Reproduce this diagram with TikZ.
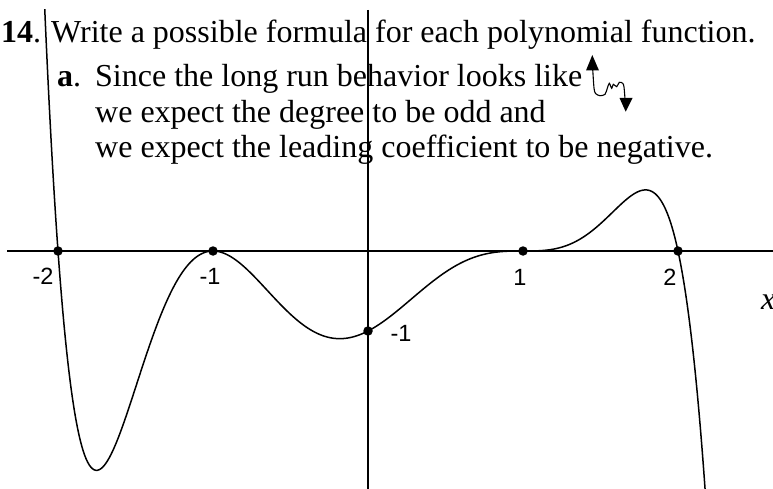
\documentclass[tikz,border=0pt]{standalone}
\usepackage{fontspec}
\setmainfont{Liberation Serif}
\newfontfamily\labelfont{Liberation Sans}
\begin{document}
\begin{tikzpicture}[x=1pt,y=-1pt,
  txt/.style={anchor=base west,inner sep=0pt,font=\fontsize{32}{36}\selectfont},
  lab/.style={inner sep=0pt,font=\labelfont\fontsize{23.5}{26}\selectfont},
  dotpt/.style={circle,fill=black,inner sep=0pt,minimum size=9.5pt},
  ax/.style={line width=1.6pt},
  crv/.style={line width=1.5pt},
  icon/.style={line width=1.1pt},
  ahead/.style={fill=black}
]
\useasboundingbox (0,0) rectangle (773,489);
% axes
\coordinate (xl) at (7,251);
\coordinate (xr) at (773,251);
\coordinate (yt) at (368,10);
\coordinate (yb) at (368,489);
\draw[ax] (xl) -- (xr);
\draw[ax] (yt) -- (yb);
% curve
\begin{scope}
\clip (0,10) rectangle (773,495);
\draw[crv] plot[domain=-2.1:2.2, samples=400, smooth]
  ({368+155*\x},{251+20*(\x+2)*(\x+1)*(\x+1)*(\x-1)*(\x-1)*(\x-1)*(\x-2)});
\end{scope}
% points
\node[dotpt] (zm2) at (58,251) {};
\node[dotpt] (zm1) at (213,251) {};
\node[dotpt] (z1) at (523,251) {};
\node[dotpt] (z2) at (678,251) {};
\node[dotpt] (yint) at (368,331) {};
% labels
\node[lab] (lm2) at (43,276) {-2};
\node[lab] (lm1) at (210,276) {-1};
\node[lab] (l1) at (520,277) {1};
\node[lab] (l2) at (670,277) {2};
\node[lab] (ly) at (401,333) {-1};
\node[txt] (xlab) at (761,309) {\itshape x};
% text
\node[txt] (n14) at (1,43) {\textbf{14}.};
\node[txt] (line1) at (51,43) {Write a possible formula for each polynomial function.};
\node[txt] (na) at (57,87) {\textbf{a}.};
\node[txt] (line2) at (95,87) {Since the long run behavior looks like};
\node[txt] (line3) at (95,123) {we expect the degree to be odd and};
\node[txt] (line4) at (95,158) {we expect the leading coefficient to be negative.};
% long-run icon
\draw[icon] plot[smooth, tension=0.5] coordinates {(592.7,69) (594,88) (595.5,93.5) (600,95.7) (605,94.3) (607.3,88.3) (609.3,83.3) (611.7,88.3) (613.3,84.3) (616.7,86.7) (619.3,82.3) (622.7,83.3) (624,87) (625,99)};
\fill[ahead] (592.3,55) -- (586,70.5) -- (599,70.5) -- cycle;
\fill[ahead] (625.7,111.7) -- (619.5,98) -- (632.5,98) -- cycle;
\end{tikzpicture}
\end{document}
